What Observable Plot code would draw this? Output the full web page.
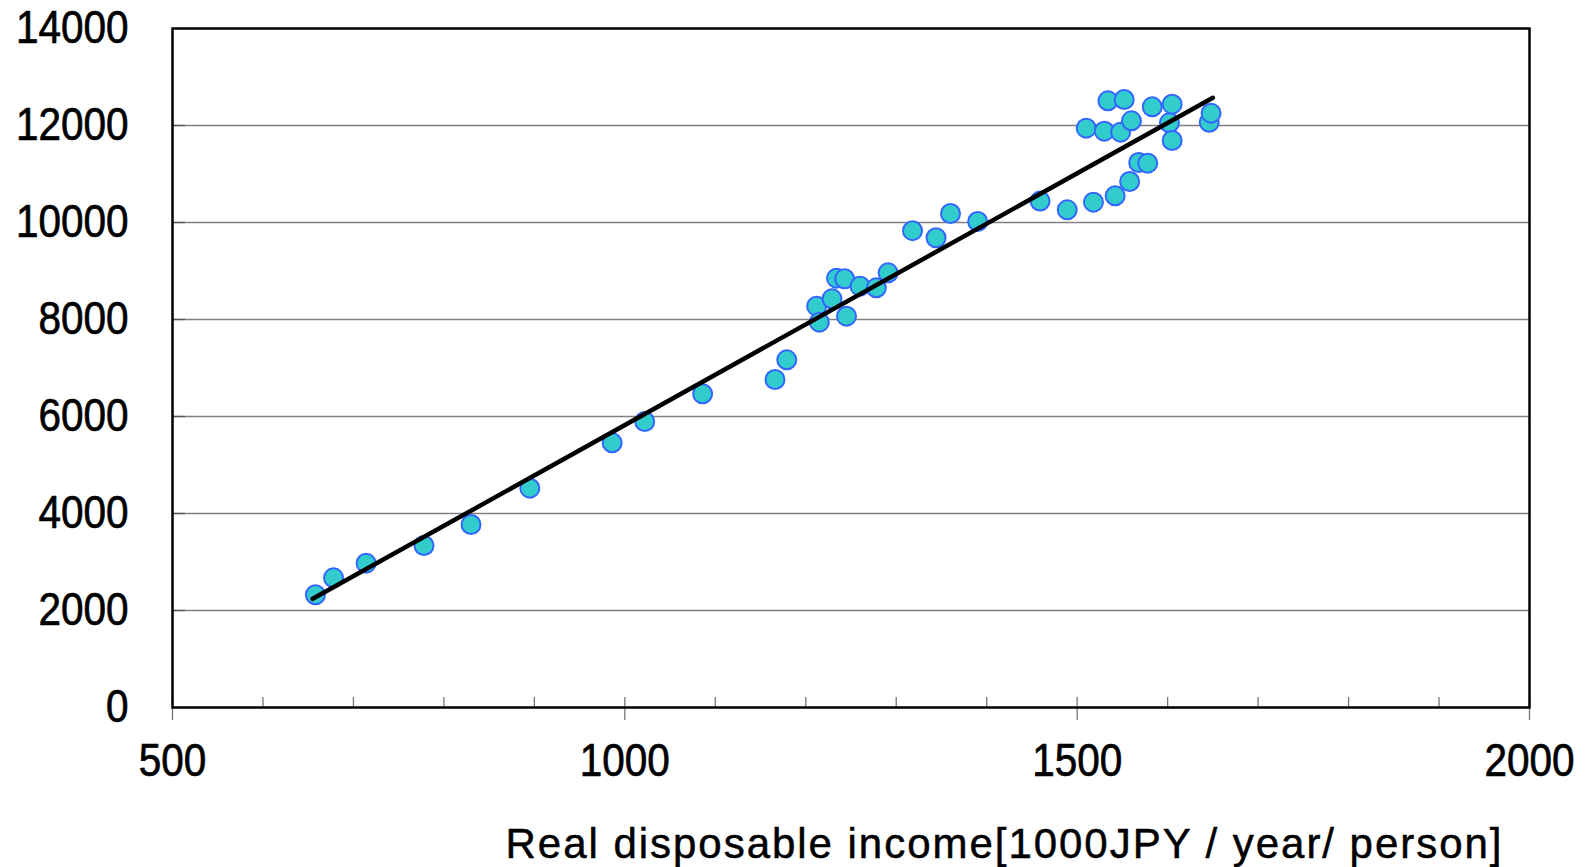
<!DOCTYPE html>
<html><head><meta charset="utf-8">
<script src="https://cdn.jsdelivr.net/npm/d3@7"></script>
<script src="https://cdn.jsdelivr.net/npm/@observablehq/plot@0.6"></script>
<style>body{margin:0;background:#fff}</style>
</head><body><div id="chart"></div>
<script>
const income = [658, 678, 714, 778, 830, 895, 986, 1022, 1086, 1166, 1179, 1212, 1215, 1229, 1234, 1243, 1245, 1260, 1278, 1291, 1318, 1344, 1360, 1390, 1459, 1489, 1510, 1518, 1530, 1534, 1542, 1548, 1552, 1558, 1560, 1568, 1578, 1583, 1602, 1605, 1605, 1646, 1648];
const expenditure = [2324, 2674, 2976, 3340, 3773, 4522, 5457, 5897, 6467, 6763, 7168, 8275, 7945, 8426, 8852, 8839, 8069, 8687, 8653, 8962, 9831, 9685, 10186, 10021, 10442, 10261, 11945, 10419, 11883, 12509, 10550, 11863, 12536, 10845, 12096, 11237, 11223, 12385, 12055, 11691, 12440, 12068, 12254];
const trendIncome = [655, 1650];
const trendValue = [2241, 12571];
const xTicks = [500, 1000, 1500, 2000];
const xMinorTicks = [500, 600, 700, 800, 900, 1000, 1100, 1200, 1300, 1400, 1500, 1600, 1700, 1800, 1900, 2000];
const yTicks = [0, 2000, 4000, 6000, 8000, 10000, 12000, 14000];
const gridValues = [2000, 4000, 6000, 8000, 10000, 12000];
const xLabel = "Real disposable income[1000JPY / year/ person]";

const points = income.map((x, i) => ({x, y: expenditure[i]}));
const trend = trendIncome.map((x, i) => ({x, y: trendValue[i]}));
const font = "'Liberation Sans', Arial, sans-serif";

const chart = Plot.plot({
  width: 1590, height: 867,
  marginLeft: 172, marginRight: 61, marginTop: 28, marginBottom: 160,
  style: {fontFamily: font, fontSize: "46px", background: "#fff", color: "#000"},
  x: {domain: [500, 2000]},
  y: {domain: [0, 14000]},
  marks: [
    Plot.gridY(gridValues, {stroke: "#808080", strokeOpacity: 1, strokeWidth: 1.3}),
    Plot.axisY(gridValues, {tickSize: -13, fill: "none", label: null, stroke: "#555", strokeWidth: 1.3}),
    Plot.axisY(yTicks, {tickSize: 0, tickPadding: 44, fontSize: 46, tickFormat: d => String(d), label: null}),
    Plot.axisX(xMinorTicks, {tickSize: -10, fill: "none", label: null, stroke: "#777", strokeWidth: 1.3}),
    Plot.axisX(xTicks, {tickSize: 13, tickPadding: 23, fontSize: 46, tickFormat: d => String(d), label: null, stroke: "#777", strokeWidth: 1.3}),
    Plot.frame({stroke: "#000", strokeWidth: 2.5}),
    Plot.dot(points, {x: "x", y: "y", r: 9.5, fill: "#33CCCC", stroke: "#3366FF", strokeWidth: 2}),
    Plot.line(trend, {x: "x", y: "y", stroke: "#000", strokeWidth: 4.5}),
    Plot.text([xLabel], {frameAnchor: "bottom-right", dx: -28, dy: 137, text: d => d, fontSize: 42, lineAnchor: "middle", textAnchor: "end", fill: "#000"})
  ]
});
// condense and slightly embolden the tick label glyphs, like the reference's narrow heavy digits
d3.select(chart).selectAll('g[aria-label$="tick label"] text').each(function () {
  const t = this.getAttribute("transform") || "";
  this.setAttribute("transform", t + " scale(0.88,1)");
  this.setAttribute("stroke", "#000");
  this.setAttribute("stroke-width", "0.7");
});
d3.select(chart).selectAll("text")
  .filter(function () { return this.textContent === xLabel; })
  .attr("textLength", 996).attr("lengthAdjust", "spacing")
  .attr("stroke", "#000").attr("stroke-width", 0.5);
document.getElementById("chart").appendChild(chart);
</script>
</body></html>
